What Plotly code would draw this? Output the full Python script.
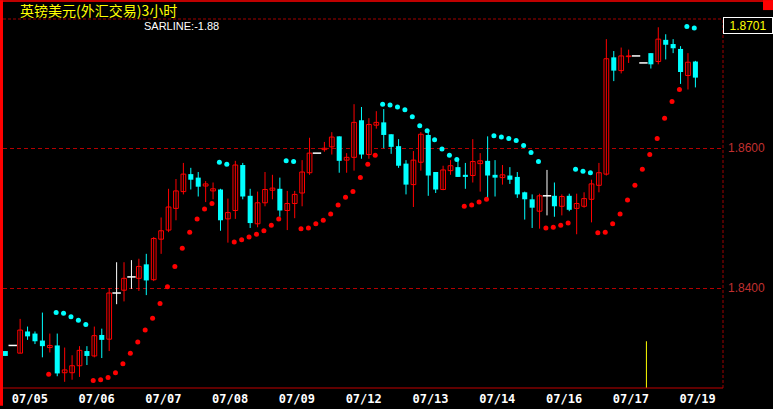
import plotly.graph_objects as go

# ---------------- data (GBP/USD, 3-hour bars) ----------------
opens = [1.8310, 1.8318, 1.8307, 1.8338, 1.8335, 1.8325, 1.8315, 1.8318, 1.8279, 1.8279,
         1.8289, 1.8310, 1.8303, 1.8333, 1.8327, 1.8393, 1.8397, 1.8416, 1.8414, 1.8434,
         1.8412, 1.8470, 1.8483, 1.8514, 1.8538, 1.8563, 1.8558, 1.8546, 1.8539, 1.8541,
         1.8499, 1.8511, 1.8576, 1.8532, 1.8492, 1.8522, 1.8540, 1.8542, 1.8511, 1.8521,
         1.8536, 1.8565, 1.8593, 1.8598, 1.8602, 1.8617, 1.8583, 1.8587, 1.8640, 1.8591,
         1.8633, 1.8637, 1.8620, 1.8603, 1.8578, 1.8548, 1.8580, 1.8619, 1.8566, 1.8541,
         1.8568, 1.8573, 1.8562, 1.8561, 1.8578, 1.8582, 1.8562, 1.8558, 1.8561, 1.8559,
         1.8537, 1.8527, 1.8510, 1.8532, 1.8532, 1.8517, 1.8532, 1.8514, 1.8517, 1.8527,
         1.8547, 1.8563, 1.8730, 1.8711, 1.8731, 1.8732, 1.8722, 1.8736, 1.8724, 1.8755,
         1.8749, 1.8742, 1.8704, 1.8724]
highs = [1.8310, 1.8318, 1.8356, 1.8345, 1.8338, 1.8365, 1.8335, 1.8335, 1.8315, 1.8304,
         1.8317, 1.8317, 1.8345, 1.8342, 1.8400, 1.8437, 1.8437, 1.8440, 1.8442, 1.8449,
         1.8473, 1.8501, 1.8542, 1.8556, 1.8579, 1.8572, 1.8566, 1.8553, 1.8551, 1.8542,
         1.8528, 1.8582, 1.8579, 1.8542, 1.8538, 1.8566, 1.8562, 1.8558, 1.8539, 1.8539,
         1.8583, 1.8615, 1.8593, 1.8609, 1.8623, 1.8617, 1.8593, 1.8663, 1.8659, 1.8643,
         1.8653, 1.8656, 1.8620, 1.8613, 1.8583, 1.8596, 1.8623, 1.8623, 1.8566, 1.8575,
         1.8583, 1.8582, 1.8579, 1.8613, 1.8593, 1.8617, 1.8583, 1.8576, 1.8573, 1.8566,
         1.8538, 1.8534, 1.8535, 1.8569, 1.8551, 1.8534, 1.8535, 1.8535, 1.8537, 1.8555,
         1.8579, 1.8756, 1.8739, 1.8744, 1.8741, 1.8732, 1.8722, 1.8736, 1.8773, 1.8763,
         1.8756, 1.8746, 1.8736, 1.8725]
lows = [1.8303, 1.8318, 1.8307, 1.8326, 1.8320, 1.8301, 1.8308, 1.8274, 1.8266, 1.8269,
        1.8273, 1.8290, 1.8301, 1.8300, 1.8310, 1.8377, 1.8381, 1.8399, 1.8396, 1.8390,
        1.8410, 1.8449, 1.8480, 1.8497, 1.8534, 1.8541, 1.8531, 1.8523, 1.8527, 1.8482,
        1.8465, 1.8499, 1.8527, 1.8486, 1.8487, 1.8517, 1.8527, 1.8502, 1.8483, 1.8500,
        1.8517, 1.8562, 1.8593, 1.8595, 1.8591, 1.8565, 1.8565, 1.8568, 1.8585, 1.8585,
        1.8628, 1.8600, 1.8592, 1.8572, 1.8534, 1.8516, 1.8568, 1.8532, 1.8536, 1.8540,
        1.8562, 1.8559, 1.8542, 1.8551, 1.8538, 1.8528, 1.8531, 1.8548, 1.8549, 1.8529,
        1.8498, 1.8486, 1.8485, 1.8504, 1.8502, 1.8504, 1.8510, 1.8477, 1.8515, 1.8494,
        1.8537, 1.8561, 1.8696, 1.8707, 1.8722, 1.8732, 1.8722, 1.8714, 1.8720, 1.8727,
        1.8736, 1.8692, 1.8684, 1.8687]
closes = [1.8303, 1.8318, 1.8340, 1.8331, 1.8324, 1.8317, 1.8318, 1.8278, 1.8283, 1.8289,
          1.8311, 1.8303, 1.8332, 1.8326, 1.8393, 1.8393, 1.8414, 1.8416, 1.8431, 1.8411,
          1.8471, 1.8482, 1.8516, 1.8539, 1.8563, 1.8555, 1.8545, 1.8549, 1.8542, 1.8497,
          1.8508, 1.8576, 1.8531, 1.8493, 1.8522, 1.8541, 1.8543, 1.8511, 1.8521, 1.8534,
          1.8566, 1.8593, 1.8593, 1.8600, 1.8616, 1.8582, 1.8587, 1.8637, 1.8591, 1.8634,
          1.8637, 1.8619, 1.8602, 1.8575, 1.8548, 1.8583, 1.8620, 1.8561, 1.8541, 1.8569,
          1.8575, 1.8559, 1.8559, 1.8581, 1.8582, 1.8561, 1.8558, 1.8562, 1.8555, 1.8534,
          1.8527, 1.8515, 1.8532, 1.8532, 1.8517, 1.8531, 1.8512, 1.8521, 1.8528, 1.8549,
          1.8565, 1.8728, 1.8711, 1.8732, 1.8732, 1.8732, 1.8722, 1.8720, 1.8756, 1.8748,
          1.8743, 1.8709, 1.8723, 1.8701]
sar = [None, None, None, None, None, None, 1.8277, 1.8365, 1.8364, 1.8359,
       1.8354, 1.8348, 1.8268, 1.8269, 1.8272, 1.8279, 1.8292, 1.8307, 1.8323, 1.8340,
       1.8357, 1.8378, 1.8402, 1.8431, 1.8457, 1.8480, 1.8499, 1.8513, 1.8521, 1.8580,
       1.8577, 1.8466, 1.8469, 1.8473, 1.8477, 1.8482, 1.8490, 1.8499, 1.8582, 1.8581,
       1.8485, 1.8486, 1.8492, 1.8497, 1.8506, 1.8519, 1.8530, 1.8538, 1.8558, 1.8577,
       1.8590, 1.8663, 1.8662, 1.8659, 1.8655, 1.8645, 1.8632, 1.8625, 1.8612, 1.8599,
       1.8590, 1.8584, 1.8517, 1.8519, 1.8523, 1.8527, 1.8618, 1.8616, 1.8614, 1.8611,
       1.8604, 1.8594, 1.8581, 1.8486, 1.8487, 1.8490, 1.8493, 1.8570, 1.8567, 1.8565,
       1.8479, 1.8480, 1.8492, 1.8506, 1.8526, 1.8547, 1.8570, 1.8591, 1.8614, 1.8643,
       1.8667, 1.8684, 1.8774, 1.8772]
date_labels = ["07/05", "07/06", "07/07", "07/08", "07/09", "07/12",
               "07/13", "07/14", "07/16", "07/17", "07/19"]
price_ticks = [1.8400, 1.8600]
event_index = [86.4]
event_top = [1.8324]

title_text = "英镑美元(外汇交易)3小时"
indicator_text = "SARLINE:-1.88"

# ---------------- styling / geometry ----------------
W, H = 773, 409
ML, MR, MT, MB = 3, 50, 19, 18
PW, PH = W - ML - MR, H - MT - MB
UP, DN, DJ = "#FF0000", "#00FFFF", "#FFFFFF"
GRID = "#B40000"
x_range = [-0.31, 96.72]
y_range = [1.825716, 1.878482]


def px(xp):
    return (xp - ML) / PW


def py(yp):
    return (H - MB - yp) / PH


n = len(opens)
idx = list(range(n))
up = [i for i in idx if closes[i] > opens[i]]
dn = [i for i in idx if closes[i] < opens[i]]
dj = [i for i in idx if closes[i] == opens[i]]


def wicks(ids):
    xs, ys = [], []
    for i in ids:
        if highs[i] > lows[i]:
            xs += [i, i, None]
            ys += [lows[i], highs[i], None]
    return xs, ys


fig = go.Figure()
for ids, col in ((up, UP), (dn, DN), (dj, DJ)):
    wx, wy = wicks(ids)
    fig.add_trace(go.Scatter(x=wx, y=wy, mode="lines", line=dict(color=col, width=1),
                             hoverinfo="skip"))

fig.add_trace(go.Bar(x=up, base=[opens[i] for i in up],
                     y=[closes[i] - opens[i] for i in up], width=0.64,
                     marker=dict(color="#000000", line=dict(color=UP, width=1)),
                     hoverinfo="skip"))
fig.add_trace(go.Bar(x=dn, base=[closes[i] for i in dn],
                     y=[opens[i] - closes[i] for i in dn], width=0.68,
                     marker=dict(color=DN, line=dict(width=0)), hoverinfo="skip"))
fig.add_trace(go.Scatter(x=dj, y=[closes[i] for i in dj], mode="markers",
                         marker=dict(symbol="line-ew", size=6,
                                     line=dict(color=DJ, width=1.5)),
                         hoverinfo="skip"))

# SAR dots
sx_r, sy_r, sx_c, sy_c = [], [], [], []
for i in idx:
    if sar[i] is None:
        continue
    if sar[i] > closes[i]:
        sx_c.append(i - 0.15); sy_c.append(sar[i])
    else:
        sx_r.append(i - 0.15); sy_r.append(sar[i])
fig.add_trace(go.Scatter(x=sx_r, y=sy_r, mode="markers",
                         marker=dict(color=UP, size=5, line=dict(width=0)), hoverinfo="skip"))
fig.add_trace(go.Scatter(x=sx_c, y=sy_c, mode="markers",
                         marker=dict(color=DN, size=5, line=dict(width=0)), hoverinfo="skip"))

# event marker line
for ex, et in zip(event_index, event_top):
    fig.add_trace(go.Scatter(x=[ex, ex], y=[y_range[0], et], mode="lines",
                             line=dict(color="#FFFF00", width=1), hoverinfo="skip"))

tick_pos = [3.3 + 9 * k for k in range(len(date_labels))]

fig.update_layout(
    width=W, height=H, showlegend=False, barmode="overlay",
    paper_bgcolor="#000000", plot_bgcolor="#000000",
    margin=dict(l=ML, r=MR, t=MT, b=MB, pad=0),
    xaxis=dict(range=x_range, showgrid=False, zeroline=False, showline=False,
               tickvals=tick_pos, ticktext=date_labels, ticks="",
               tickfont=dict(family="DejaVu Sans Mono", size=12, color="#FFFFFF",
                             weight="bold"),
               ticklabelstandoff=2, fixedrange=True),
    yaxis=dict(range=y_range, side="right", showgrid=True, gridcolor=GRID,
               griddash="4px,3px", gridwidth=1, zeroline=False, showline=False,
               tickvals=price_ticks, ticktext=[f"{v:.4f}" for v in price_ticks],
               ticks="", tickfont=dict(family="Liberation Sans", size=12, color="#C03030"),
               ticklabelstandoff=4, fixedrange=True),
    shapes=[
        dict(type="rect", xref="paper", yref="paper", x0=px(0), x1=px(W), y0=py(0), y1=py(1.5),
             fillcolor="#FF0000", line=dict(width=0), layer="below"),
        dict(type="rect", xref="paper", yref="paper", x0=px(0), x1=px(3), y0=py(0), y1=py(H),
             fillcolor="#FF0000", line=dict(width=0), layer="above"),
        dict(type="rect", xref="paper", yref="paper", x0=px(763), x1=px(W), y0=py(0), y1=py(10),
             fillcolor="#FF0000", line=dict(width=0), layer="above"),
        dict(type="line", xref="paper", yref="paper", x0=0, x1=1, y0=1, y1=1,
             line=dict(color="#A00000", width=1, dash="3px,2px")),
        dict(type="line", xref="paper", yref="paper", x0=1, x1=1, y0=0, y1=1,
             line=dict(color="#A00000", width=1, dash="3px,2px")),
        dict(type="line", xref="paper", yref="paper", x0=0, x1=1, y0=0, y1=0,
             line=dict(color="#C00000", width=1)),
    ],
    annotations=[
        dict(text=title_text, xref="paper", yref="paper", x=px(18), y=py(9.5),
             xanchor="left", yanchor="middle", showarrow=False,
             font=dict(family="Noto Sans CJK SC", size=14, color="#FFFF00")),
        dict(text=indicator_text, xref="paper", yref="paper", x=px(142), y=py(26),
             xanchor="left", yanchor="middle", showarrow=False,
             font=dict(family="Liberation Sans", size=11, color="#FFFFFF")),
        dict(text=f"{closes[-1]:.4f}", xref="paper", yref="paper", x=1, y=py(25.5),
             xanchor="left", yanchor="middle", showarrow=False, align="center",
             width=46, height=13, bgcolor="#000000", bordercolor="#FFFFFF",
             borderwidth=1, borderpad=1,
             font=dict(family="Liberation Sans", size=12, color="#FFFF00")),
    ],
)

fig.write_html("out.html", config={"displayModeBar": False},
               post_script="document.body.style.margin='0';document.body.style.overflow='hidden';")
